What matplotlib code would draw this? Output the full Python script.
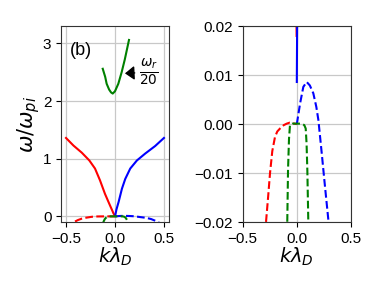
import matplotlib
matplotlib.use("Agg")
import matplotlib.pyplot as plt

plt.rcParams['font.family'] = ['Liberation Sans', 'DejaVu Sans']
plt.rcParams['mathtext.fontset'] = 'dejavusans'

# 실수부 (omega_r)
k_red = [-0.5, -0.425, -0.339, -0.262, -0.204, -0.153, -0.102, -0.051, -0.03, -0.015, -0.002]
w_red = [1.36, 1.23, 1.105, 0.97, 0.83, 0.625, 0.39, 0.19, 0.11, 0.05, 0.018]

k_blue = [0.0, 0.003, 0.015, 0.037, 0.071, 0.105, 0.156, 0.224, 0.309, 0.41, 0.5]
w_blue = [0.0086, 0.02, 0.12, 0.25, 0.48, 0.65, 0.83, 0.97, 1.09, 1.22, 1.36]

k_green = [-0.125, -0.1, -0.085, -0.06, -0.04, -0.023, 0.0, 0.034, 0.068, 0.1, 0.143]
w_green = [2.56, 2.42, 2.30, 2.2, 2.15, 2.13, 2.17, 2.30, 2.5, 2.72, 3.06]   # omega_r / 20

# 허수부 (gamma)
kg_red = [-0.5, -0.46, -0.42, -0.38, -0.34, -0.31, -0.284, -0.265, -0.247, -0.226,
          -0.201, -0.18, -0.155, -0.12, -0.093, -0.065, -0.04, -0.02, 0.0]
g_red = [-0.2, -0.145, -0.1, -0.065, -0.04, -0.027, -0.02, -0.015, -0.010, -0.0055,
         -0.0026, -0.0015, -0.0009, -0.0002, 0.0001, 0.0003, 0.0002, 0.0001, 0.0]

kg_blue = [0.0, 0.03, 0.06, 0.091, 0.12, 0.152, 0.18, 0.199, 0.23, 0.26, 0.291,
           0.33, 0.37, 0.41, 0.44, 0.47, 0.5]
g_blue = [0.0, 0.0042, 0.0076, 0.0086, 0.0079, 0.0063, 0.0035, 0.0008, -0.006, -0.0128, -0.0196,
          -0.03, -0.047, -0.075, -0.1, -0.13, -0.16]

kg_green = [-0.125, -0.115, -0.105, -0.095, -0.088, -0.081, -0.072, -0.063, -0.04, 0.0,
            0.04, 0.069, 0.082, 0.09, 0.097, 0.106, 0.115, 0.125, 0.135, 0.143]
g_green = [-0.13, -0.085, -0.05, -0.028, -0.02, -0.0094, -0.003, -0.0002, 0.0001, 0.0001,
           0.0001, -0.0002, -0.0009, -0.004, -0.0094, -0.02, -0.04, -0.07, -0.1, -0.13]

fig = plt.figure(figsize=(3.82, 2.87), dpi=100)
ax1 = fig.add_axes([0.160, 0.226, 0.282, 0.683])
ax2 = fig.add_axes([0.635, 0.226, 0.284, 0.683])

for ax in (ax1, ax2):
    ax.plot(k_red, w_red, 'r-', lw=1.5)
    ax.plot(k_blue, w_blue, 'b-', lw=1.5)
    ax.plot(k_green, w_green, 'g-', lw=1.5)
    ax.plot(kg_red, g_red, 'r--', lw=1.5)
    ax.plot(kg_blue, g_blue, 'b--', lw=1.5)
    ax.plot(kg_green, g_green, 'g--', lw=1.5)
    ax.grid(True, color='#c8c8c8', lw=0.9)
    ax.tick_params(labelsize=11)
    ax.set_xlabel(r'$k\lambda_D$', fontsize=14, labelpad=0)
    for s in ax.spines.values():
        s.set_color('#333333')

ax1.set_xlim(-0.55, 0.55)
ax1.set_ylim(-0.1, 3.3)
ax1.set_xticks([-0.5, 0.0, 0.5])
ax1.set_yticks([0, 1, 2, 3])
ax1.set_ylabel(r'$\omega/\omega_{pi}$', fontsize=15, labelpad=1)
ax1.text(-0.46, 2.88, '(b)', fontsize=13, va='center')
ax1.annotate(r'$\frac{\omega_r}{20}$', xy=(0.102, 2.48), xytext=(0.343, 2.5),
             fontsize=14, ha='center', va='center',
             arrowprops=dict(arrowstyle='-|>,head_length=0.4,head_width=0.3',
                             color='k', shrinkA=1, shrinkB=0))

ax2.set_xlim(-0.5, 0.5)
ax2.set_ylim(-0.02, 0.02)
ax2.set_xticks([-0.5, 0.0, 0.5])
ax2.set_yticks([-0.02, -0.01, 0.0, 0.01, 0.02])

fig.savefig('out.png', dpi=100)
